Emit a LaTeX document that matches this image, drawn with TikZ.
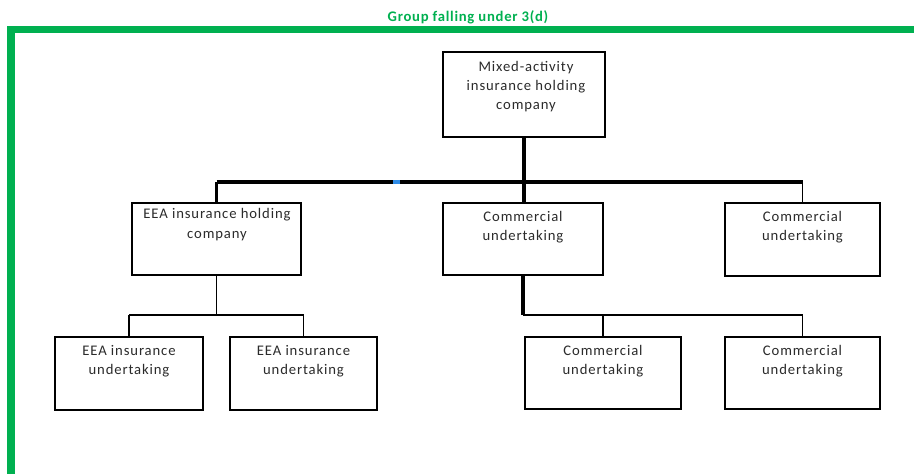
\documentclass[tikz,border=0pt]{standalone}
\usepackage{fontspec}
\setmainfont{Carlito}
\usetikzlibrary{fit}
\definecolor{grpgreen}{HTML}{00B050}
\definecolor{txtgrey}{HTML}{2B2B2B}
\definecolor{markblue}{HTML}{2E8BE6}
\begin{document}
\begin{tikzpicture}[x=0.75pt,y=-0.75pt,
  unit/.style={draw=black, line width=1.6pt, fill=white, inner sep=0pt},
  txt/.style={align=center, font=\fontsize{11}{14.5}\selectfont\addfontfeature{LetterSpace=6}, text=txtgrey, inner sep=0pt},
  bus/.style={line width=2.6pt},
  tie/.style={line width=1.2pt},
  grouptitle/.style={font=\bfseries\fontsize{11}{13}\selectfont\addfontfeature{LetterSpace=5}, text=grpgreen, inner sep=0pt},
]
\useasboundingbox (0,0) rectangle (914,474);

% group frame and its title
\draw[grpgreen, line width=5.4pt] (11,480) -- (11,29.5) -- (920,29.5);
\node[grouptitle] (title) at (468,17) {Group falling under 3(d)};

% companies
\node[unit, fit={(443,52) (605,137)}] (top) {};
\node[unit, fit={(132,203) (301,275)}] (eeah) {};
\node[unit, fit={(443,203) (603,275)}] (comm) {};
\node[unit, fit={(725,203) (880,276)}] (comr) {};
\node[unit, fit={(55,337) (203,410)}] (eeu1) {};
\node[unit, fit={(230,337) (377,410)}] (eeu2) {};
\node[unit, fit={(525,337) (681,409)}] (cml1) {};
\node[unit, fit={(725,337) (880,409)}] (cml2) {};

\node[txt] (ttop) at (526,86.5) {Mixed-activity\\insurance holding\\company};
\node[txt] (teeah) at (217,224.5) {EEA insurance holding\\company};
\node[txt] (tcomm) at (523,227.5) {Commercial\\undertaking};
\node[txt] (tcomr) at (802.5,227.5) {Commercial\\undertaking};
\node[txt] (teeu1) at (129,361) {EEA insurance\\undertaking};
\node[txt] (teeu2) at (303.5,361) {EEA insurance\\undertaking};
\node[txt] (tcml1) at (603,361) {Commercial\\undertaking};
\node[txt] (tcml2) at (802.5,361) {Commercial\\undertaking};

% bus levels
\coordinate (busA) at (0,182);
\coordinate (busB) at (0,315);

% first level
\draw[bus] (top.south) -- (top.south |- comm.north);
\draw[bus] (eeah.north |- busA) -- (comr.north |- busA);
\draw[line width=1.8pt] (eeah.north) -- (eeah.north |- busA);
\draw[tie] (comr.north) -- (comr.north |- busA);
\fill[markblue] (393,180) rectangle (400,184);

% below the EEA insurance holding company
\draw[tie] (eeah.south) -- (eeah.south |- busB);
\draw[tie] (eeu1.north |- busB) -- (eeu2.north |- busB);
\draw[line width=2.2pt] (eeu1.north) -- (eeu1.north |- busB);
\draw[tie] (eeu2.north) -- (eeu2.north |- busB);

% below the middle commercial undertaking
\draw[bus] (comm.south) -- (comm.south |- busB);
\draw[tie] (comm.south |- busB) -- (cml2.north |- busB);
\draw[tie] (cml1.north) -- (cml1.north |- busB);
\draw[tie] (cml2.north) -- (cml2.north |- busB);
\end{tikzpicture}
\end{document}
